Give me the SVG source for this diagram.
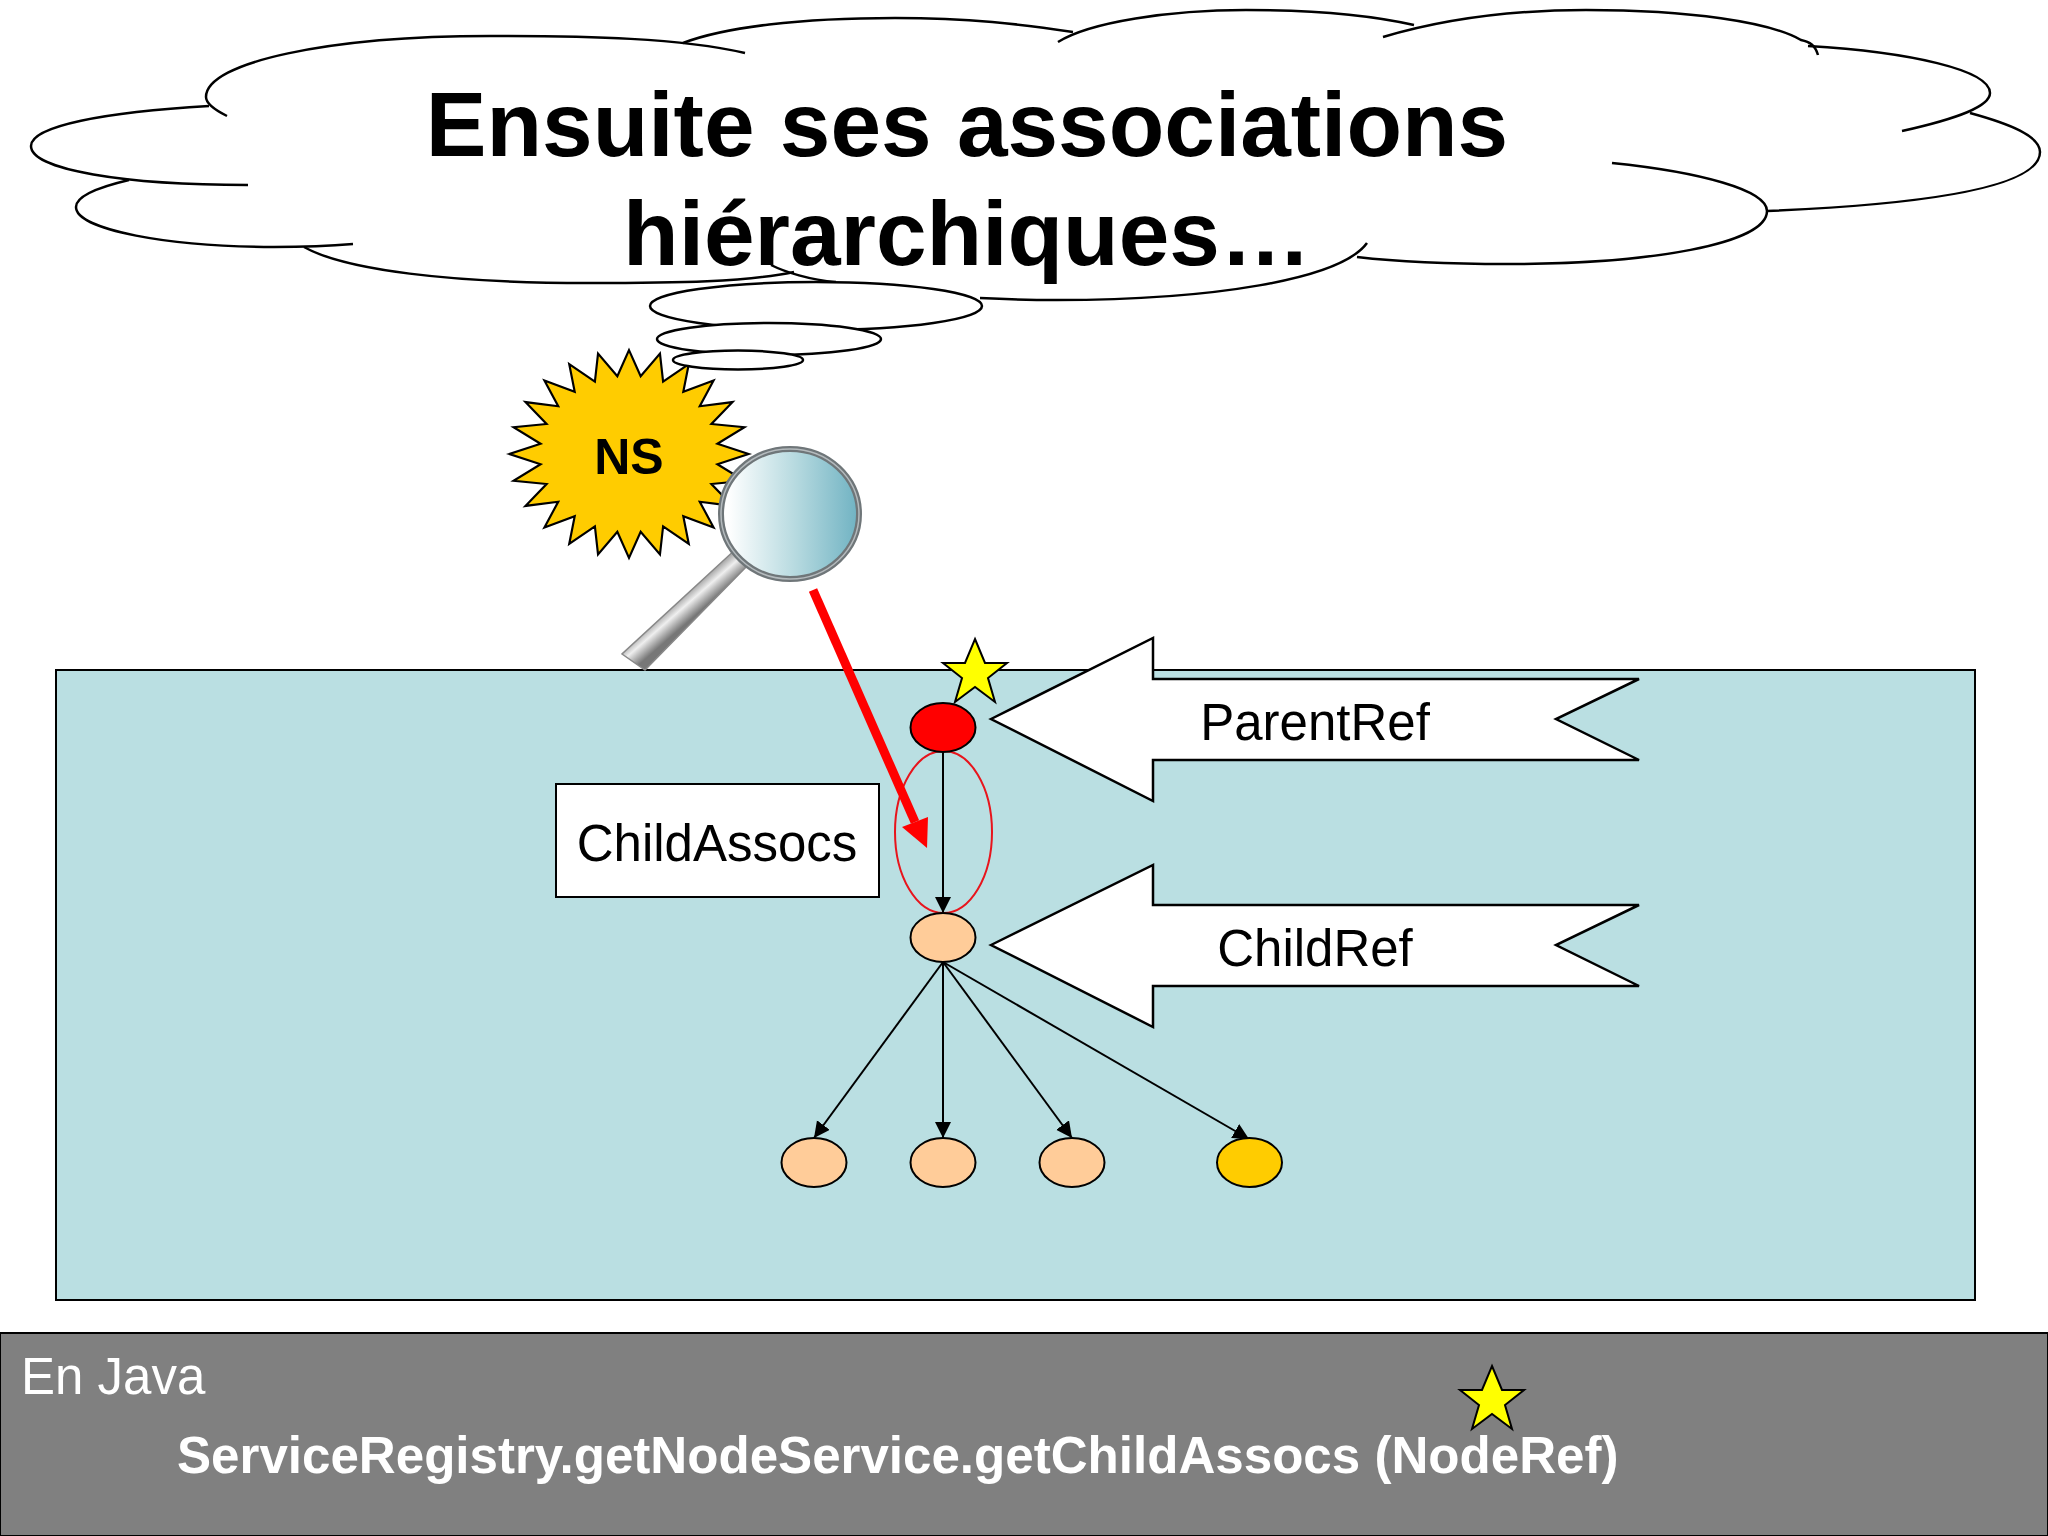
<svg xmlns="http://www.w3.org/2000/svg" width="2048" height="1536" viewBox="0 0 2048 1536">
<defs>
<style>
.cl{fill:#fff;stroke:#000;stroke-width:2.5}
.cla{fill:none;stroke:#000;stroke-width:2.5}
.n{stroke:#000;stroke-width:2}
.b{fill:#fff;stroke:#000;stroke-width:2.5}
.star{fill:#ff0;stroke:#000;stroke-width:2}
.t{font-family:"Liberation Sans",Arial,sans-serif;text-anchor:middle}
.tb{font-family:"Liberation Sans",Arial,sans-serif;font-weight:700}
.l{stroke:#000;stroke-width:2;fill:none;marker-end:url(#ah)}
</style>
<marker id="ah" markerUnits="userSpaceOnUse" markerWidth="18" markerHeight="18" refX="16" refY="8" orient="auto"><path d="M0,0L16,8L0,16z" fill="#000"/></marker>
<linearGradient id="lens" x1="0" x2="1" y1="0" y2="0"><stop offset="0.05" stop-color="#fff"/><stop offset="0.55" stop-color="#b5d9df"/><stop offset="1" stop-color="#6fb2c2"/></linearGradient>
<linearGradient id="handle" gradientUnits="userSpaceOnUse" x1="628" y1="646" x2="642" y2="662"><stop offset="0" stop-color="#b0b0b0"/><stop offset="0.35" stop-color="#efefef"/><stop offset="1" stop-color="#777"/></linearGradient>
</defs>
<rect width="2048" height="1536" fill="#fff"/>
<g id="cloud">
<path fill="#fff" d="M209,106C110,112 31,122 31,146C31,172 130,185 248,185L129,180C95,188 76,196 76,207C76,232 160,247 274,247L304,247C345,270 450,283 588,283C680,283 750,285 836,282L980,298C1020,300 1040,300 1057,300C1210,300 1340,280 1367,243L1357,257C1400,262 1450,264 1507,264C1650,264 1767,244 1767,211C1880,205 2040,190 2040,152C2040,136 2010,124 1970,113C1985,106 1990,100 1990,93C1990,70 1910,52 1808,46C1780,25 1690,10 1586,10C1530,10 1460,15 1414,25C1370,15 1310,10 1246,10C1180,10 1110,18 1073,32C1030,24 970,18 895,18C800,18 725,27 683,43C630,40 570,36 490,36C330,36 206,60 206,97C206,100 207,103 209,106Z"/>
<path class="cla" d="M745,53C680,38 590,36 490,36C330,36 206,62 206,97C206,104 215,110 227,116"/>
<path class="cla" d="M209,106C105,112 31,126 31,146C31,170 125,185 248,185"/>
<path class="cla" d="M129,180C95,188 76,197 76,207C76,230 170,247 274,247C305,247 330,246 353,244"/>
<path class="cla" d="M304,247C345,270 450,283 588,283C680,283 745,282 794,272"/>
<path class="cla" d="M771,265C785,272 810,280 836,282"/>
<path class="cla" d="M980,298C1020,300 1040,300 1057,300C1210,300 1340,280 1367,243"/>
<path class="cla" d="M1357,257C1400,262 1450,264 1507,264C1650,264 1767,244 1767,211C1767,190 1700,172 1612,163"/>
<path class="cla" d="M1767,211C1910,205 2040,190 2040,152C2040,136 2010,124 1970,113"/>
<path class="cla" d="M1902,131C1960,118 1990,106 1990,93C1990,70 1910,52 1808,46"/>
<path class="cla" d="M1818,55C1815,45 1810,42 1801,40C1770,22 1690,10 1586,10C1510,10 1440,20 1383,37"/>
<path class="cla" d="M1414,25C1370,15 1310,10 1246,10C1170,10 1090,22 1058,42"/>
<path class="cla" d="M1073,32C1020,24 970,18 895,18C800,18 725,27 683,43"/>
</g>
<ellipse class="cl" cx="816" cy="306" rx="166" ry="24"/>
<ellipse class="cl" cx="769" cy="339" rx="112" ry="16"/>
<g id="ns">
<polygon id="nsstar" fill="#ffcc00" stroke="#000" stroke-width="2.200" transform="translate(629,454) scale(.98) translate(-629,-453)" points="629,347 640.900,373.700 660.600,350.600 663.800,379.100 690,361.200 684.400,389.500 715.300,378 701.200,404.300 734.700,400 713.100,422.400 746.800,425.600 719.200,442.600 751,453 719.200,463.400 746.800,480.400 713.100,483.600 734.700,506 701.200,501.700 715.300,528 684.400,516.500 690,544.800 663.800,526.900 660.600,555.400 640.900,532.300 629,559 617.100,532.300 597.400,555.400 594.200,526.900 568,544.800 573.600,516.500 542.700,528 556.800,501.700 523.300,506 544.900,483.600 511.200,480.400 538.800,463.400 507,453 538.800,442.600 511.200,425.600 544.900,422.400 523.300,400 556.800,404.300 542.700,378 573.600,389.500 568,361.200 594.200,379.100 597.400,350.600 617.100,373.700"/>
<text class="tb" x="629" y="474" font-size="50" text-anchor="middle">NS</text>
</g>
<ellipse class="cl" cx="738" cy="360" rx="65" ry="9.500"/>
<g id="panel">
<rect x="56" y="670" width="1919" height="630" fill="#badfe2" stroke="#000" stroke-width="2"/>
</g>
<g id="magnifier">
<polygon points="737,548 750,563 645,670 622,654" fill="url(#handle)" stroke="#888" stroke-width="1.500"/>
<ellipse cx="790" cy="514" rx="69" ry="65" fill="url(#lens)" stroke="#6f7679" stroke-width="6"/>
<ellipse cx="790" cy="514" rx="69" ry="65" fill="none" stroke="#b4babd" stroke-width="1.500"/>
</g>
<g id="connectors">
<line class="l" x1="943" y1="752" x2="943" y2="913"/>
<line class="l" x1="943" y1="962" x2="814" y2="1138"/>
<line class="l" x1="943" y1="962" x2="943" y2="1138"/>
<line class="l" x1="943" y1="962" x2="1072" y2="1138"/>
<line class="l" x1="943" y1="962" x2="1249" y2="1139"/>
</g>
<g id="childassocs"><rect x="556" y="784" width="323" height="113" fill="#fff" stroke="#000" stroke-width="2"/><text class="t" x="717" y="861" font-size="51">ChildAssocs</text></g>
<ellipse id="assocring" cx="943.500" cy="832" rx="48.500" ry="81" fill="none" stroke="#e8141c" stroke-width="2"/>
<g id="redarrow"><line x1="813" y1="590" x2="915" y2="822" stroke="#f00" stroke-width="9"/><polygon points="927,848 902,827 928,817" fill="#f00"/></g>
<g id="nparent"><ellipse class="n" cx="943" cy="727.500" rx="32.500" ry="24.500" fill="#f00"/></g>
<g id="nchild"><ellipse class="n" cx="943" cy="937.500" rx="32.500" ry="24.500" fill="#ffcc99"/></g>
<g id="n1"><ellipse class="n" cx="814" cy="1162.500" rx="32.500" ry="24.500" fill="#ffcc99"/></g>
<g id="n2"><ellipse class="n" cx="943" cy="1162.500" rx="32.500" ry="24.500" fill="#ffcc99"/></g>
<g id="n3"><ellipse class="n" cx="1072" cy="1162.500" rx="32.500" ry="24.500" fill="#ffcc99"/></g>
<g id="n4"><ellipse class="n" cx="1249.500" cy="1162.500" rx="32.500" ry="24.500" fill="#ffcc00"/></g>
<polygon class="star" points="975,639 985,663 1007,663 988,678 995,702 975,687 955,702 962,678 943,663 965,663"/>
<g id="parentref"><polygon class="b" points="991,719 1153,638 1153,679 1639,679 1556,719 1639,760 1153,760 1153,801"/><text class="t" x="1315" y="740" font-size="51">ParentRef</text></g>
<g id="childref"><polygon class="b" points="991,945 1153,865 1153,905 1639,905 1556,945 1639,986 1153,986 1153,1027"/><text class="t" x="1315" y="966" font-size="51">ChildRef</text></g>
<g id="title"><text class="tb" x="967" y="156" font-size="91" text-anchor="middle">Ensuite ses associations</text><text class="tb" x="967" y="265" font-size="91" text-anchor="middle">hiérarchiques…</text></g>
<g id="java">
<rect x="0" y="1333" width="2048" height="203" fill="#808080" stroke="#000" stroke-width="2"/>
<text x="21" y="1394" font-size="51" fill="#fff" font-family="Liberation Sans,Arial,sans-serif">En Java</text>
<text class="tb" x="177" y="1473" font-size="51.100" fill="#fff">ServiceRegistry.getNodeService.getChildAssocs (NodeRef)</text>
<polygon class="star" points="1492,1366 1502,1390 1524,1390 1505,1405 1512,1429 1492,1414 1472,1429 1479,1405 1460,1390 1482,1390"/>
</g>
</svg>
